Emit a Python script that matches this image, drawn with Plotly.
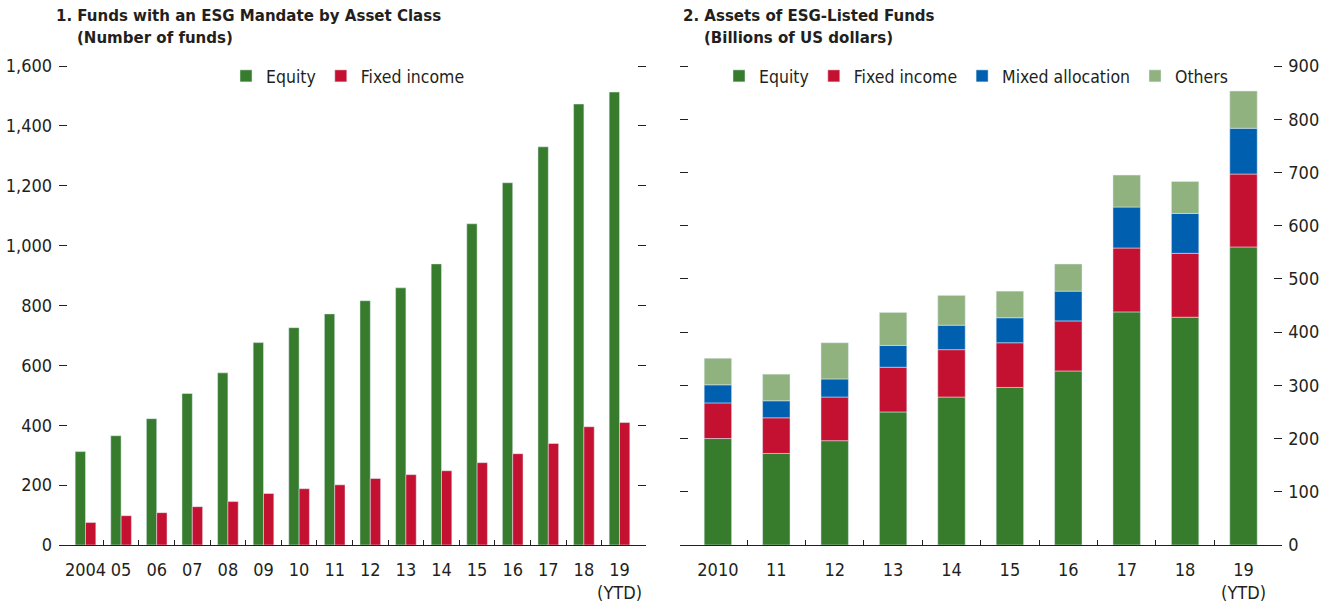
import plotly.graph_objects as go

# ---- Panel 1 data: number of funds ----
years_left = ["2004", "05", "06", "07", "08", "09", "10", "11", "12", "13",
              "14", "15", "16", "17", "18", "19<br>(YTD)"]
equity_funds = [312, 365, 422, 506, 575, 676, 726, 772, 816, 859,
                939, 1073, 1210, 1330, 1473, 1513]
fixed_income_funds = [75, 98, 108, 128, 145, 172, 188, 201, 222, 235,
                      248, 275, 305, 339, 395, 409]

# ---- Panel 2 data: assets (billions of US dollars) ----
years_right = ["2010", "11", "12", "13", "14", "15", "16", "17", "18", "19<br>(YTD)"]
equity_assets = [200, 172, 196, 250, 278, 296, 327, 438, 428, 560]
fixed_income_assets = [67, 67, 82, 84, 89, 84, 94, 120, 120, 137]
mixed_assets = [34, 32, 34, 41, 46, 47, 56, 77, 75, 86]
other_assets = [50, 50, 68, 62, 56, 50, 51, 60, 60, 70]

GREEN = "rgb(55,124,45)"
RED = "rgb(197,17,49)"
BLUE = "rgb(0,96,175)"
LGREEN = "rgb(144,178,127)"
TXT = "#231F20"
FONT = "Liberation Sans Narrow, DejaVu Sans Condensed, Roboto Condensed, Arial Narrow, sans-serif"

W, H = 1331, 605
T, B = 66, 60

fig = go.Figure()

# Left panel (grouped via explicit offsets)
fig.add_trace(go.Bar(x=years_left, y=equity_funds, name="Equity",
                     marker_color=GREEN, offset=-0.29, width=0.29,
                     xaxis="x", yaxis="y", legend="legend"))
fig.add_trace(go.Bar(x=years_left, y=fixed_income_funds, name="Fixed income",
                     marker_color=RED, offset=0.0, width=0.29,
                     xaxis="x", yaxis="y", legend="legend"))

# Right panel (stacked)
series = [("Equity", equity_assets, GREEN),
          ("Fixed income", fixed_income_assets, RED),
          ("Mixed allocation", mixed_assets, BLUE),
          ("Others", other_assets, LGREEN)]
base = [0] * len(years_right)
for name, vals, col in series:
    fig.add_trace(go.Bar(x=years_right, y=vals, base=list(base), name=name,
                         marker_color=col, offset=-0.235, width=0.47,
                         xaxis="x2", yaxis="y2", legend="legend2"))
    base = [b + v for b, v in zip(base, vals)]

tickfont = dict(family=FONT, size=18, color=TXT)

common_x = dict(type="category", showline=True, linecolor=TXT, linewidth=1,
                ticks="inside", ticklen=5, tickcolor=TXT, tickson="boundaries",
                showgrid=False, tickfont=tickfont, ticklabelstandoff=8,
                tickangle=0, fixedrange=True, automargin=False)
common_y = dict(showgrid=False, zeroline=False, showline=True,
                linecolor="rgba(0,0,0,0)", mirror="ticks", ticks="outside",
                ticklen=8, tickcolor=TXT, tickfont=tickfont, fixedrange=True,
                ticklabelstandoff=3, automargin=False)

def py(p):
    return (H - B - p) / (H - T - B)

legfont = dict(family=FONT, size=17.5, color=TXT)
titlefont = dict(family=FONT, size=16.7, color=TXT)

fig.update_layout(
    width=W, height=H,
    margin=dict(l=0, r=0, t=T, b=B),
    paper_bgcolor="white", plot_bgcolor="white",
    barmode="overlay",
    font=dict(family=FONT, color=TXT),
    xaxis=dict(domain=[67.7 / W, 637.3 / W], anchor="y",
               range=[-0.5, len(years_left) - 0.5], **common_x),
    yaxis=dict(anchor="x", range=[0, 1600], dtick=200, tickformat=",",
               **common_y),
    xaxis2=dict(domain=[688.7 / W, 1272.7 / W], anchor="y2",
                range=[-0.5, len(years_right) - 0.5], **common_x),
    yaxis2=dict(anchor="x2", side="right", range=[0, 900], dtick=100,
                **common_y),
    legend=dict(orientation="h", x=226 / W, xanchor="left", y=py(76),
                yanchor="middle", font=legfont,
                bgcolor="rgba(0,0,0,0)", traceorder="normal"),
    legend2=dict(orientation="h", x=719 / W, xanchor="left", y=py(76),
                 yanchor="middle", font=legfont,
                 bgcolor="rgba(0,0,0,0)", traceorder="normal"),
    annotations=[
        dict(text="<b>1. Funds with an ESG Mandate by Asset Class</b>",
             xref="paper", yref="paper", x=54 / W, y=py(15), xanchor="left",
             yanchor="middle", showarrow=False, font=titlefont),
        dict(text="<b>(Number of funds)</b>",
             xref="paper", yref="paper", x=75 / W, y=py(37), xanchor="left",
             yanchor="middle", showarrow=False, font=titlefont),
        dict(text="<b>2. Assets of ESG-Listed Funds</b>",
             xref="paper", yref="paper", x=681 / W, y=py(15), xanchor="left",
             yanchor="middle", showarrow=False, font=titlefont),
        dict(text="<b>(Billions of US dollars)</b>",
             xref="paper", yref="paper", x=702 / W, y=py(37), xanchor="left",
             yanchor="middle", showarrow=False, font=titlefont),
    ],
)

fig.write_html("out.html", config={"displayModeBar": False},
               post_script="document.body.style.margin='0';document.body.style.overflow='hidden';")
